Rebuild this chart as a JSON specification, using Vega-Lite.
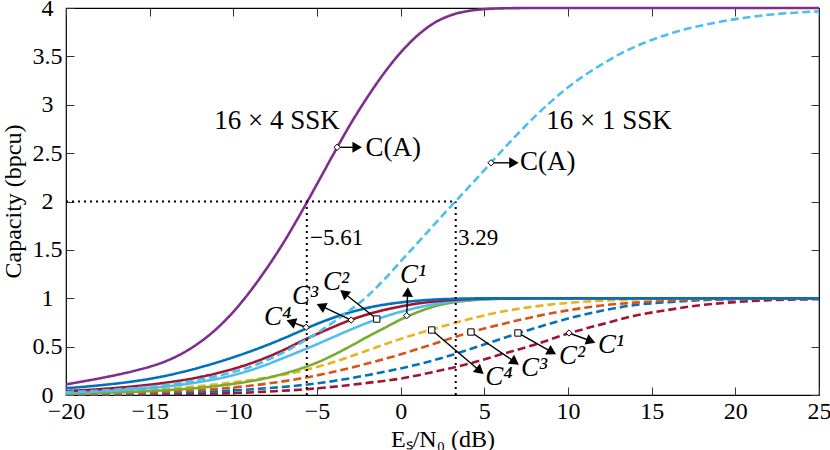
{
  "$schema": "https://vega.github.io/schema/vega-lite/v6.json",
  "width": 753,
  "height": 387,
  "autosize": {"type": "none"},
  "padding": {"left": 66, "top": 8, "right": 11, "bottom": 55},
  "background": "white",
  "config": {
    "view": {"stroke": "black", "strokeWidth": 1.2},
    "axis": {
      "labelFont": "Liberation Serif", "labelFontSize": 24, "labelColor": "black",
      "titleFont": "Liberation Serif", "titleFontSize": 24, "titleFontWeight": "normal", "titleColor": "black",
      "tickColor": "#333", "tickSize": -8, "tickWidth": 1, "domain": false, "grid": false
    },
    "text": {"font": "Liberation Serif", "color": "black"}
  },
  "datasets": {
    "curves": [
      {"id": "16×1 C1", "sys": "16×1", "x": -20, "y": 0.002},
      {"id": "16×1 C1", "sys": "16×1", "x": -18, "y": 0.003},
      {"id": "16×1 C1", "sys": "16×1", "x": -16, "y": 0.005},
      {"id": "16×1 C1", "sys": "16×1", "x": -14, "y": 0.008},
      {"id": "16×1 C1", "sys": "16×1", "x": -12, "y": 0.012},
      {"id": "16×1 C1", "sys": "16×1", "x": -10, "y": 0.02},
      {"id": "16×1 C1", "sys": "16×1", "x": -8, "y": 0.035},
      {"id": "16×1 C1", "sys": "16×1", "x": -6, "y": 0.055},
      {"id": "16×1 C1", "sys": "16×1", "x": -4, "y": 0.085},
      {"id": "16×1 C1", "sys": "16×1", "x": -2, "y": 0.125},
      {"id": "16×1 C1", "sys": "16×1", "x": 0, "y": 0.17},
      {"id": "16×1 C1", "sys": "16×1", "x": 2, "y": 0.24},
      {"id": "16×1 C1", "sys": "16×1", "x": 4, "y": 0.32},
      {"id": "16×1 C1", "sys": "16×1", "x": 6, "y": 0.42},
      {"id": "16×1 C1", "sys": "16×1", "x": 8, "y": 0.52},
      {"id": "16×1 C1", "sys": "16×1", "x": 10, "y": 0.635},
      {"id": "16×1 C1", "sys": "16×1", "x": 12, "y": 0.73},
      {"id": "16×1 C1", "sys": "16×1", "x": 14, "y": 0.82},
      {"id": "16×1 C1", "sys": "16×1", "x": 16, "y": 0.88},
      {"id": "16×1 C1", "sys": "16×1", "x": 18, "y": 0.93},
      {"id": "16×1 C1", "sys": "16×1", "x": 20, "y": 0.96},
      {"id": "16×1 C1", "sys": "16×1", "x": 22, "y": 0.98},
      {"id": "16×1 C1", "sys": "16×1", "x": 25, "y": 0.99},

      {"id": "16×1 C2", "sys": "16×1", "x": -20, "y": 0.005},
      {"id": "16×1 C2", "sys": "16×1", "x": -18, "y": 0.008},
      {"id": "16×1 C2", "sys": "16×1", "x": -16, "y": 0.012},
      {"id": "16×1 C2", "sys": "16×1", "x": -14, "y": 0.019},
      {"id": "16×1 C2", "sys": "16×1", "x": -12, "y": 0.03},
      {"id": "16×1 C2", "sys": "16×1", "x": -10, "y": 0.047},
      {"id": "16×1 C2", "sys": "16×1", "x": -8, "y": 0.07},
      {"id": "16×1 C2", "sys": "16×1", "x": -6, "y": 0.1},
      {"id": "16×1 C2", "sys": "16×1", "x": -4, "y": 0.145},
      {"id": "16×1 C2", "sys": "16×1", "x": -2, "y": 0.205},
      {"id": "16×1 C2", "sys": "16×1", "x": 0, "y": 0.275},
      {"id": "16×1 C2", "sys": "16×1", "x": 2, "y": 0.36},
      {"id": "16×1 C2", "sys": "16×1", "x": 4, "y": 0.465},
      {"id": "16×1 C2", "sys": "16×1", "x": 6, "y": 0.58},
      {"id": "16×1 C2", "sys": "16×1", "x": 8, "y": 0.69},
      {"id": "16×1 C2", "sys": "16×1", "x": 10, "y": 0.79},
      {"id": "16×1 C2", "sys": "16×1", "x": 12, "y": 0.87},
      {"id": "16×1 C2", "sys": "16×1", "x": 14, "y": 0.93},
      {"id": "16×1 C2", "sys": "16×1", "x": 16, "y": 0.96},
      {"id": "16×1 C2", "sys": "16×1", "x": 18, "y": 0.98},
      {"id": "16×1 C2", "sys": "16×1", "x": 20, "y": 0.99},
      {"id": "16×1 C2", "sys": "16×1", "x": 22, "y": 0.995},
      {"id": "16×1 C2", "sys": "16×1", "x": 25, "y": 1.0},

      {"id": "16×1 C3", "sys": "16×1", "x": -20, "y": 0.01},
      {"id": "16×1 C3", "sys": "16×1", "x": -18, "y": 0.015},
      {"id": "16×1 C3", "sys": "16×1", "x": -16, "y": 0.022},
      {"id": "16×1 C3", "sys": "16×1", "x": -14, "y": 0.033},
      {"id": "16×1 C3", "sys": "16×1", "x": -12, "y": 0.05},
      {"id": "16×1 C3", "sys": "16×1", "x": -10, "y": 0.078},
      {"id": "16×1 C3", "sys": "16×1", "x": -8, "y": 0.117},
      {"id": "16×1 C3", "sys": "16×1", "x": -6, "y": 0.17},
      {"id": "16×1 C3", "sys": "16×1", "x": -4, "y": 0.24},
      {"id": "16×1 C3", "sys": "16×1", "x": -2, "y": 0.325},
      {"id": "16×1 C3", "sys": "16×1", "x": 0, "y": 0.42},
      {"id": "16×1 C3", "sys": "16×1", "x": 2, "y": 0.53},
      {"id": "16×1 C3", "sys": "16×1", "x": 4, "y": 0.64},
      {"id": "16×1 C3", "sys": "16×1", "x": 6, "y": 0.73},
      {"id": "16×1 C3", "sys": "16×1", "x": 8, "y": 0.81},
      {"id": "16×1 C3", "sys": "16×1", "x": 10, "y": 0.875},
      {"id": "16×1 C3", "sys": "16×1", "x": 12, "y": 0.925},
      {"id": "16×1 C3", "sys": "16×1", "x": 14, "y": 0.955},
      {"id": "16×1 C3", "sys": "16×1", "x": 16, "y": 0.975},
      {"id": "16×1 C3", "sys": "16×1", "x": 18, "y": 0.988},
      {"id": "16×1 C3", "sys": "16×1", "x": 20, "y": 0.995},
      {"id": "16×1 C3", "sys": "16×1", "x": 22, "y": 1.0},
      {"id": "16×1 C3", "sys": "16×1", "x": 25, "y": 1.0},

      {"id": "16×1 C4", "sys": "16×1", "x": -20, "y": 0.02},
      {"id": "16×1 C4", "sys": "16×1", "x": -18, "y": 0.03},
      {"id": "16×1 C4", "sys": "16×1", "x": -16, "y": 0.044},
      {"id": "16×1 C4", "sys": "16×1", "x": -14, "y": 0.064},
      {"id": "16×1 C4", "sys": "16×1", "x": -12, "y": 0.092},
      {"id": "16×1 C4", "sys": "16×1", "x": -10, "y": 0.13},
      {"id": "16×1 C4", "sys": "16×1", "x": -8, "y": 0.18},
      {"id": "16×1 C4", "sys": "16×1", "x": -6, "y": 0.245},
      {"id": "16×1 C4", "sys": "16×1", "x": -4, "y": 0.34},
      {"id": "16×1 C4", "sys": "16×1", "x": -2, "y": 0.46},
      {"id": "16×1 C4", "sys": "16×1", "x": 0, "y": 0.58},
      {"id": "16×1 C4", "sys": "16×1", "x": 2, "y": 0.685},
      {"id": "16×1 C4", "sys": "16×1", "x": 4, "y": 0.78},
      {"id": "16×1 C4", "sys": "16×1", "x": 6, "y": 0.86},
      {"id": "16×1 C4", "sys": "16×1", "x": 8, "y": 0.915},
      {"id": "16×1 C4", "sys": "16×1", "x": 10, "y": 0.952},
      {"id": "16×1 C4", "sys": "16×1", "x": 12, "y": 0.975},
      {"id": "16×1 C4", "sys": "16×1", "x": 14, "y": 0.988},
      {"id": "16×1 C4", "sys": "16×1", "x": 16, "y": 0.995},
      {"id": "16×1 C4", "sys": "16×1", "x": 18, "y": 1.0},
      {"id": "16×1 C4", "sys": "16×1", "x": 25, "y": 1.0},

      {"id": "16×4 C1", "sys": "16×4", "x": -20, "y": 0.015},
      {"id": "16×4 C1", "sys": "16×4", "x": -18, "y": 0.022},
      {"id": "16×4 C1", "sys": "16×4", "x": -16, "y": 0.033},
      {"id": "16×4 C1", "sys": "16×4", "x": -14, "y": 0.05},
      {"id": "16×4 C1", "sys": "16×4", "x": -12, "y": 0.075},
      {"id": "16×4 C1", "sys": "16×4", "x": -11, "y": 0.093},
      {"id": "16×4 C1", "sys": "16×4", "x": -10, "y": 0.115},
      {"id": "16×4 C1", "sys": "16×4", "x": -9, "y": 0.142},
      {"id": "16×4 C1", "sys": "16×4", "x": -8, "y": 0.176},
      {"id": "16×4 C1", "sys": "16×4", "x": -7, "y": 0.22},
      {"id": "16×4 C1", "sys": "16×4", "x": -6, "y": 0.272},
      {"id": "16×4 C1", "sys": "16×4", "x": -5, "y": 0.335},
      {"id": "16×4 C1", "sys": "16×4", "x": -4, "y": 0.415},
      {"id": "16×4 C1", "sys": "16×4", "x": -3, "y": 0.505},
      {"id": "16×4 C1", "sys": "16×4", "x": -2, "y": 0.6},
      {"id": "16×4 C1", "sys": "16×4", "x": -1, "y": 0.69},
      {"id": "16×4 C1", "sys": "16×4", "x": 0, "y": 0.78},
      {"id": "16×4 C1", "sys": "16×4", "x": 1, "y": 0.855},
      {"id": "16×4 C1", "sys": "16×4", "x": 2, "y": 0.915},
      {"id": "16×4 C1", "sys": "16×4", "x": 3, "y": 0.953},
      {"id": "16×4 C1", "sys": "16×4", "x": 4, "y": 0.975},
      {"id": "16×4 C1", "sys": "16×4", "x": 5, "y": 0.988},
      {"id": "16×4 C1", "sys": "16×4", "x": 7, "y": 0.998},
      {"id": "16×4 C1", "sys": "16×4", "x": 10, "y": 1.0},
      {"id": "16×4 C1", "sys": "16×4", "x": 25, "y": 1.0},

      {"id": "16×4 C2", "sys": "16×4", "x": -20, "y": 0.025},
      {"id": "16×4 C2", "sys": "16×4", "x": -18, "y": 0.038},
      {"id": "16×4 C2", "sys": "16×4", "x": -16, "y": 0.058},
      {"id": "16×4 C2", "sys": "16×4", "x": -14, "y": 0.088},
      {"id": "16×4 C2", "sys": "16×4", "x": -12, "y": 0.135},
      {"id": "16×4 C2", "sys": "16×4", "x": -10, "y": 0.205},
      {"id": "16×4 C2", "sys": "16×4", "x": -9, "y": 0.255},
      {"id": "16×4 C2", "sys": "16×4", "x": -8, "y": 0.315},
      {"id": "16×4 C2", "sys": "16×4", "x": -7, "y": 0.383},
      {"id": "16×4 C2", "sys": "16×4", "x": -6, "y": 0.453},
      {"id": "16×4 C2", "sys": "16×4", "x": -5, "y": 0.525},
      {"id": "16×4 C2", "sys": "16×4", "x": -4, "y": 0.6},
      {"id": "16×4 C2", "sys": "16×4", "x": -3, "y": 0.675},
      {"id": "16×4 C2", "sys": "16×4", "x": -2, "y": 0.745},
      {"id": "16×4 C2", "sys": "16×4", "x": -1, "y": 0.808},
      {"id": "16×4 C2", "sys": "16×4", "x": 0, "y": 0.86},
      {"id": "16×4 C2", "sys": "16×4", "x": 1, "y": 0.903},
      {"id": "16×4 C2", "sys": "16×4", "x": 2, "y": 0.938},
      {"id": "16×4 C2", "sys": "16×4", "x": 3, "y": 0.963},
      {"id": "16×4 C2", "sys": "16×4", "x": 4, "y": 0.98},
      {"id": "16×4 C2", "sys": "16×4", "x": 5, "y": 0.99},
      {"id": "16×4 C2", "sys": "16×4", "x": 7, "y": 0.998},
      {"id": "16×4 C2", "sys": "16×4", "x": 10, "y": 1.0},
      {"id": "16×4 C2", "sys": "16×4", "x": 25, "y": 1.0},

      {"id": "16×4 C3", "sys": "16×4", "x": -20, "y": 0.04},
      {"id": "16×4 C3", "sys": "16×4", "x": -18, "y": 0.06},
      {"id": "16×4 C3", "sys": "16×4", "x": -16, "y": 0.088},
      {"id": "16×4 C3", "sys": "16×4", "x": -14, "y": 0.128},
      {"id": "16×4 C3", "sys": "16×4", "x": -12, "y": 0.185},
      {"id": "16×4 C3", "sys": "16×4", "x": -10, "y": 0.27},
      {"id": "16×4 C3", "sys": "16×4", "x": -9, "y": 0.325},
      {"id": "16×4 C3", "sys": "16×4", "x": -8, "y": 0.39},
      {"id": "16×4 C3", "sys": "16×4", "x": -7, "y": 0.465},
      {"id": "16×4 C3", "sys": "16×4", "x": -6, "y": 0.55},
      {"id": "16×4 C3", "sys": "16×4", "x": -5, "y": 0.63},
      {"id": "16×4 C3", "sys": "16×4", "x": -4, "y": 0.705},
      {"id": "16×4 C3", "sys": "16×4", "x": -3, "y": 0.775},
      {"id": "16×4 C3", "sys": "16×4", "x": -2, "y": 0.832},
      {"id": "16×4 C3", "sys": "16×4", "x": -1, "y": 0.878},
      {"id": "16×4 C3", "sys": "16×4", "x": 0, "y": 0.915},
      {"id": "16×4 C3", "sys": "16×4", "x": 1, "y": 0.945},
      {"id": "16×4 C3", "sys": "16×4", "x": 2, "y": 0.966},
      {"id": "16×4 C3", "sys": "16×4", "x": 3, "y": 0.981},
      {"id": "16×4 C3", "sys": "16×4", "x": 4, "y": 0.99},
      {"id": "16×4 C3", "sys": "16×4", "x": 6, "y": 0.998},
      {"id": "16×4 C3", "sys": "16×4", "x": 9, "y": 1.0},
      {"id": "16×4 C3", "sys": "16×4", "x": 25, "y": 1.0},

      {"id": "16×4 C4", "sys": "16×4", "x": -20, "y": 0.07},
      {"id": "16×4 C4", "sys": "16×4", "x": -18, "y": 0.1},
      {"id": "16×4 C4", "sys": "16×4", "x": -16, "y": 0.14},
      {"id": "16×4 C4", "sys": "16×4", "x": -15, "y": 0.167},
      {"id": "16×4 C4", "sys": "16×4", "x": -14, "y": 0.2},
      {"id": "16×4 C4", "sys": "16×4", "x": -13, "y": 0.24},
      {"id": "16×4 C4", "sys": "16×4", "x": -12, "y": 0.285},
      {"id": "16×4 C4", "sys": "16×4", "x": -11, "y": 0.335},
      {"id": "16×4 C4", "sys": "16×4", "x": -10, "y": 0.39},
      {"id": "16×4 C4", "sys": "16×4", "x": -9, "y": 0.45},
      {"id": "16×4 C4", "sys": "16×4", "x": -8, "y": 0.515},
      {"id": "16×4 C4", "sys": "16×4", "x": -7, "y": 0.585},
      {"id": "16×4 C4", "sys": "16×4", "x": -6, "y": 0.66},
      {"id": "16×4 C4", "sys": "16×4", "x": -5, "y": 0.735},
      {"id": "16×4 C4", "sys": "16×4", "x": -4, "y": 0.8},
      {"id": "16×4 C4", "sys": "16×4", "x": -3, "y": 0.855},
      {"id": "16×4 C4", "sys": "16×4", "x": -2, "y": 0.9},
      {"id": "16×4 C4", "sys": "16×4", "x": -1, "y": 0.933},
      {"id": "16×4 C4", "sys": "16×4", "x": 0, "y": 0.957},
      {"id": "16×4 C4", "sys": "16×4", "x": 1, "y": 0.974},
      {"id": "16×4 C4", "sys": "16×4", "x": 2, "y": 0.986},
      {"id": "16×4 C4", "sys": "16×4", "x": 3, "y": 0.993},
      {"id": "16×4 C4", "sys": "16×4", "x": 5, "y": 0.999},
      {"id": "16×4 C4", "sys": "16×4", "x": 8, "y": 1.0},
      {"id": "16×4 C4", "sys": "16×4", "x": 25, "y": 1.0},

      {"id": "16×1 C(A)", "sys": "16×1", "x": -20, "y": 0.03},
      {"id": "16×1 C(A)", "sys": "16×1", "x": -18, "y": 0.045},
      {"id": "16×1 C(A)", "sys": "16×1", "x": -16, "y": 0.07},
      {"id": "16×1 C(A)", "sys": "16×1", "x": -14, "y": 0.105},
      {"id": "16×1 C(A)", "sys": "16×1", "x": -12, "y": 0.16},
      {"id": "16×1 C(A)", "sys": "16×1", "x": -11, "y": 0.195},
      {"id": "16×1 C(A)", "sys": "16×1", "x": -10, "y": 0.238},
      {"id": "16×1 C(A)", "sys": "16×1", "x": -9, "y": 0.29},
      {"id": "16×1 C(A)", "sys": "16×1", "x": -8, "y": 0.36},
      {"id": "16×1 C(A)", "sys": "16×1", "x": -7, "y": 0.44},
      {"id": "16×1 C(A)", "sys": "16×1", "x": -6, "y": 0.535},
      {"id": "16×1 C(A)", "sys": "16×1", "x": -5, "y": 0.64},
      {"id": "16×1 C(A)", "sys": "16×1", "x": -4, "y": 0.755},
      {"id": "16×1 C(A)", "sys": "16×1", "x": -3, "y": 0.88},
      {"id": "16×1 C(A)", "sys": "16×1", "x": -2, "y": 1.02},
      {"id": "16×1 C(A)", "sys": "16×1", "x": -1, "y": 1.19},
      {"id": "16×1 C(A)", "sys": "16×1", "x": 0, "y": 1.38},
      {"id": "16×1 C(A)", "sys": "16×1", "x": 1, "y": 1.57},
      {"id": "16×1 C(A)", "sys": "16×1", "x": 2, "y": 1.76},
      {"id": "16×1 C(A)", "sys": "16×1", "x": 3, "y": 1.95},
      {"id": "16×1 C(A)", "sys": "16×1", "x": 4, "y": 2.135},
      {"id": "16×1 C(A)", "sys": "16×1", "x": 5, "y": 2.325},
      {"id": "16×1 C(A)", "sys": "16×1", "x": 6, "y": 2.515},
      {"id": "16×1 C(A)", "sys": "16×1", "x": 7, "y": 2.7},
      {"id": "16×1 C(A)", "sys": "16×1", "x": 8, "y": 2.875},
      {"id": "16×1 C(A)", "sys": "16×1", "x": 9, "y": 3.035},
      {"id": "16×1 C(A)", "sys": "16×1", "x": 10, "y": 3.18},
      {"id": "16×1 C(A)", "sys": "16×1", "x": 11, "y": 3.305},
      {"id": "16×1 C(A)", "sys": "16×1", "x": 12, "y": 3.415},
      {"id": "16×1 C(A)", "sys": "16×1", "x": 13, "y": 3.515},
      {"id": "16×1 C(A)", "sys": "16×1", "x": 14, "y": 3.6},
      {"id": "16×1 C(A)", "sys": "16×1", "x": 15, "y": 3.67},
      {"id": "16×1 C(A)", "sys": "16×1", "x": 16, "y": 3.73},
      {"id": "16×1 C(A)", "sys": "16×1", "x": 17, "y": 3.78},
      {"id": "16×1 C(A)", "sys": "16×1", "x": 18, "y": 3.82},
      {"id": "16×1 C(A)", "sys": "16×1", "x": 19, "y": 3.855},
      {"id": "16×1 C(A)", "sys": "16×1", "x": 20, "y": 3.885},
      {"id": "16×1 C(A)", "sys": "16×1", "x": 22, "y": 3.93},
      {"id": "16×1 C(A)", "sys": "16×1", "x": 25, "y": 3.965},

      {"id": "16×4 C(A)", "sys": "16×4", "x": -20, "y": 0.11},
      {"id": "16×4 C(A)", "sys": "16×4", "x": -19, "y": 0.14},
      {"id": "16×4 C(A)", "sys": "16×4", "x": -18, "y": 0.172},
      {"id": "16×4 C(A)", "sys": "16×4", "x": -17, "y": 0.207},
      {"id": "16×4 C(A)", "sys": "16×4", "x": -16, "y": 0.246},
      {"id": "16×4 C(A)", "sys": "16×4", "x": -15, "y": 0.292},
      {"id": "16×4 C(A)", "sys": "16×4", "x": -14, "y": 0.352},
      {"id": "16×4 C(A)", "sys": "16×4", "x": -13, "y": 0.435},
      {"id": "16×4 C(A)", "sys": "16×4", "x": -12, "y": 0.545},
      {"id": "16×4 C(A)", "sys": "16×4", "x": -11, "y": 0.685},
      {"id": "16×4 C(A)", "sys": "16×4", "x": -10, "y": 0.86},
      {"id": "16×4 C(A)", "sys": "16×4", "x": -9, "y": 1.07},
      {"id": "16×4 C(A)", "sys": "16×4", "x": -8, "y": 1.31},
      {"id": "16×4 C(A)", "sys": "16×4", "x": -7, "y": 1.575},
      {"id": "16×4 C(A)", "sys": "16×4", "x": -6, "y": 1.87},
      {"id": "16×4 C(A)", "sys": "16×4", "x": -5, "y": 2.18},
      {"id": "16×4 C(A)", "sys": "16×4", "x": -4, "y": 2.495},
      {"id": "16×4 C(A)", "sys": "16×4", "x": -3, "y": 2.8},
      {"id": "16×4 C(A)", "sys": "16×4", "x": -2, "y": 3.075},
      {"id": "16×4 C(A)", "sys": "16×4", "x": -1, "y": 3.325},
      {"id": "16×4 C(A)", "sys": "16×4", "x": 0, "y": 3.54},
      {"id": "16×4 C(A)", "sys": "16×4", "x": 1, "y": 3.715},
      {"id": "16×4 C(A)", "sys": "16×4", "x": 2, "y": 3.845},
      {"id": "16×4 C(A)", "sys": "16×4", "x": 3, "y": 3.925},
      {"id": "16×4 C(A)", "sys": "16×4", "x": 4, "y": 3.968},
      {"id": "16×4 C(A)", "sys": "16×4", "x": 5, "y": 3.988},
      {"id": "16×4 C(A)", "sys": "16×4", "x": 6, "y": 3.996},
      {"id": "16×4 C(A)", "sys": "16×4", "x": 8, "y": 4.0},
      {"id": "16×4 C(A)", "sys": "16×4", "x": 25, "y": 4.0}
    ],
    "guides": [
      {"x": -20, "y": 2, "x2": 3.29, "y2": 2},
      {"x": -5.61, "y": 0, "x2": -5.61, "y2": 2},
      {"x": 3.29, "y": 0, "x2": 3.29, "y2": 2}
    ],
    "markers": [
      {"id": "16×4 C(A)", "x": -3.8, "y": 2.56, "x2": -2.6, "y2": 2.56},
      {"id": "16×1 C(A)", "x": 5.4, "y": 2.40, "x2": 6.77, "y2": 2.40},
      {"id": "16×4 C4", "x": -5.65, "y": 0.70, "x2": -6.55, "y2": 0.755},
      {"id": "16×4 C3", "x": -2.96, "y": 0.775, "x2": -4.76, "y2": 0.92},
      {"id": "16×4 C2", "x": -1.43, "y": 0.785, "x2": -3.39, "y2": 1.054},
      {"id": "16×4 C1", "x": 0.36, "y": 0.82, "x2": 0.42, "y2": 1.065},
      {"id": "16×1 C4", "x": 1.855, "y": 0.672, "x2": 4.74, "y2": 0.248},
      {"id": "16×1 C3", "x": 4.2, "y": 0.651, "x2": 6.83, "y2": 0.341},
      {"id": "16×1 C2", "x": 7.01, "y": 0.641, "x2": 9.04, "y2": 0.444},
      {"id": "16×1 C1", "x": 10.06, "y": 0.641, "x2": 11.37, "y2": 0.558}
    ],
    "clabels": [
      {"text": "C⁴", "x": -7.35, "y": 0.81},
      {"text": "C³", "x": -5.72, "y": 1.02},
      {"text": "C²", "x": -3.86, "y": 1.17},
      {"text": "C¹", "x": 0.74, "y": 1.24},
      {"text": "C⁴", "x": 5.88, "y": 0.19},
      {"text": "C³", "x": 7.97, "y": 0.28},
      {"text": "C²", "x": 10.24, "y": 0.40},
      {"text": "C¹", "x": 12.57, "y": 0.52}
    ],
    "leftnotes": [
      {"text": "C(A)", "x": -2.1, "y": 2.55},
      {"text": "C(A)", "x": 7.13, "y": 2.41}
    ],
    "numbers": [
      {"text": "−5.61", "x": -5.42, "y": 1.62},
      {"text": "3.29", "x": 3.43, "y": 1.62}
    ],
    "centernotes": [
      {"text": "16 × 4 SSK", "x": -7.39, "y": 2.83},
      {"text": "16 × 1 SSK", "x": 12.45, "y": 2.83}
    ]
  },
  "resolve": {"axis": {"x": "independent", "y": "independent"}},
  "layer": [
    {
      "data": {"name": "curves"},
      "mark": {"type": "line", "strokeWidth": 2.6, "interpolate": "monotone"},
      "encoding": {
        "x": {
          "field": "x", "type": "quantitative",
          "scale": {"domain": [-20, 25], "nice": false, "zero": false},
          "axis": {
            "orient": "bottom", "values": [-20, -15, -10, -5, 0, 5, 10, 15, 20, 25], "format": "~g",
            "labelPadding": 12, "labelFlush": false,
            "title": "Eₛ/N₀ (dB)", "titleY": 51, "titleBaseline": "alphabetic"
          }
        },
        "y": {
          "field": "y", "type": "quantitative",
          "scale": {"domain": [0, 4], "nice": false},
          "axis": {
            "orient": "left", "values": [0, 0.5, 1, 1.5, 2, 2.5, 3, 3.5, 4], "format": "~g",
            "labelAlign": "center", "labelBaseline": "middle", "labelPadding": 27, "labelFlush": false,
            "title": "Capacity (bpcu)", "titleX": -46, "titleY": 193, "titleAngle": -90, "titleBaseline": "alphabetic"
          }
        },
        "color": {
          "field": "id", "type": "nominal", "legend": null,
          "scale": {
            "domain": ["16×4 C(A)", "16×1 C(A)", "16×4 C4", "16×4 C3", "16×4 C2", "16×4 C1", "16×1 C4", "16×1 C3", "16×1 C2", "16×1 C1"],
            "range": ["#7E2F8E", "#4DBEEE", "#0072BD", "#A2142F", "#4DBEEE", "#77AC30", "#EDB120", "#D95319", "#0072BD", "#A2142F"]
          }
        },
        "strokeDash": {
          "field": "sys", "type": "nominal", "legend": null,
          "scale": {"domain": ["16×4", "16×1"], "range": [[1, 0], [8, 4]]}
        }
      }
    },
    {
      "data": {"name": "guides"},
      "mark": {"type": "rule", "strokeDash": [2, 4], "strokeWidth": 2, "color": "black"},
      "encoding": {
        "x": {"field": "x", "type": "quantitative",
          "axis": {"orient": "top", "values": [-20, -15, -10, -5, 0, 5, 10, 15, 20, 25], "labels": false, "title": null}},
        "x2": {"field": "x2"},
        "y": {"field": "y", "type": "quantitative",
          "axis": {"orient": "right", "values": [0, 0.5, 1, 1.5, 2, 2.5, 3, 3.5, 4], "labels": false, "title": null}},
        "y2": {"field": "y2"}
      }
    },
    {
      "data": {"name": "markers"},
      "mark": {"type": "rule", "strokeWidth": 1.4, "color": "black"},
      "encoding": {
        "x": {"field": "x", "type": "quantitative", "axis": null},
        "x2": {"field": "x2"},
        "y": {"field": "y", "type": "quantitative", "axis": null},
        "y2": {"field": "y2"}
      }
    },
    {
      "data": {"name": "markers"},
      "transform": [
        {"calculate": "atan2((datum.x2 - datum.x) * 16.733, (datum.y2 - datum.y) * 96.75) * 180 / PI", "as": "angle"}
      ],
      "mark": {"type": "point", "shape": "triangle-up", "filled": true, "color": "black", "size": 120, "opacity": 1},
      "encoding": {
        "x": {"field": "x2", "type": "quantitative", "axis": null},
        "y": {"field": "y2", "type": "quantitative", "axis": null},
        "angle": {"field": "angle", "type": "quantitative", "scale": null}
      }
    },
    {
      "data": {"name": "markers"},
      "mark": {"type": "point", "filled": true, "fill": "white", "stroke": "black", "strokeWidth": 1, "size": 40, "opacity": 1},
      "encoding": {
        "x": {"field": "x", "type": "quantitative", "axis": null},
        "y": {"field": "y", "type": "quantitative", "axis": null},
        "shape": {
          "field": "id", "type": "nominal", "legend": null,
          "scale": {
            "domain": ["16×4 C(A)", "16×1 C(A)", "16×4 C4", "16×4 C3", "16×4 C2", "16×4 C1", "16×1 C4", "16×1 C3", "16×1 C2", "16×1 C1"],
            "range": ["diamond", "diamond", "diamond", "diamond", "square", "diamond", "square", "square", "square", "diamond"]
          }
        }
      }
    },
    {
      "data": {"name": "clabels"},
      "mark": {"type": "text", "fontSize": 27, "fontStyle": "italic", "align": "center", "baseline": "middle"},
      "encoding": {
        "x": {"field": "x", "type": "quantitative", "axis": null},
        "y": {"field": "y", "type": "quantitative", "axis": null},
        "text": {"field": "text"}
      }
    },
    {
      "data": {"name": "leftnotes"},
      "mark": {"type": "text", "fontSize": 27, "align": "left", "baseline": "middle"},
      "encoding": {
        "x": {"field": "x", "type": "quantitative", "axis": null},
        "y": {"field": "y", "type": "quantitative", "axis": null},
        "text": {"field": "text"}
      }
    },
    {
      "data": {"name": "numbers"},
      "mark": {"type": "text", "fontSize": 23, "align": "left", "baseline": "middle"},
      "encoding": {
        "x": {"field": "x", "type": "quantitative", "axis": null},
        "y": {"field": "y", "type": "quantitative", "axis": null},
        "text": {"field": "text"}
      }
    },
    {
      "data": {"name": "centernotes"},
      "mark": {"type": "text", "fontSize": 27, "align": "center", "baseline": "middle"},
      "encoding": {
        "x": {"field": "x", "type": "quantitative", "axis": null},
        "y": {"field": "y", "type": "quantitative", "axis": null},
        "text": {"field": "text"}
      }
    }
  ]
}
